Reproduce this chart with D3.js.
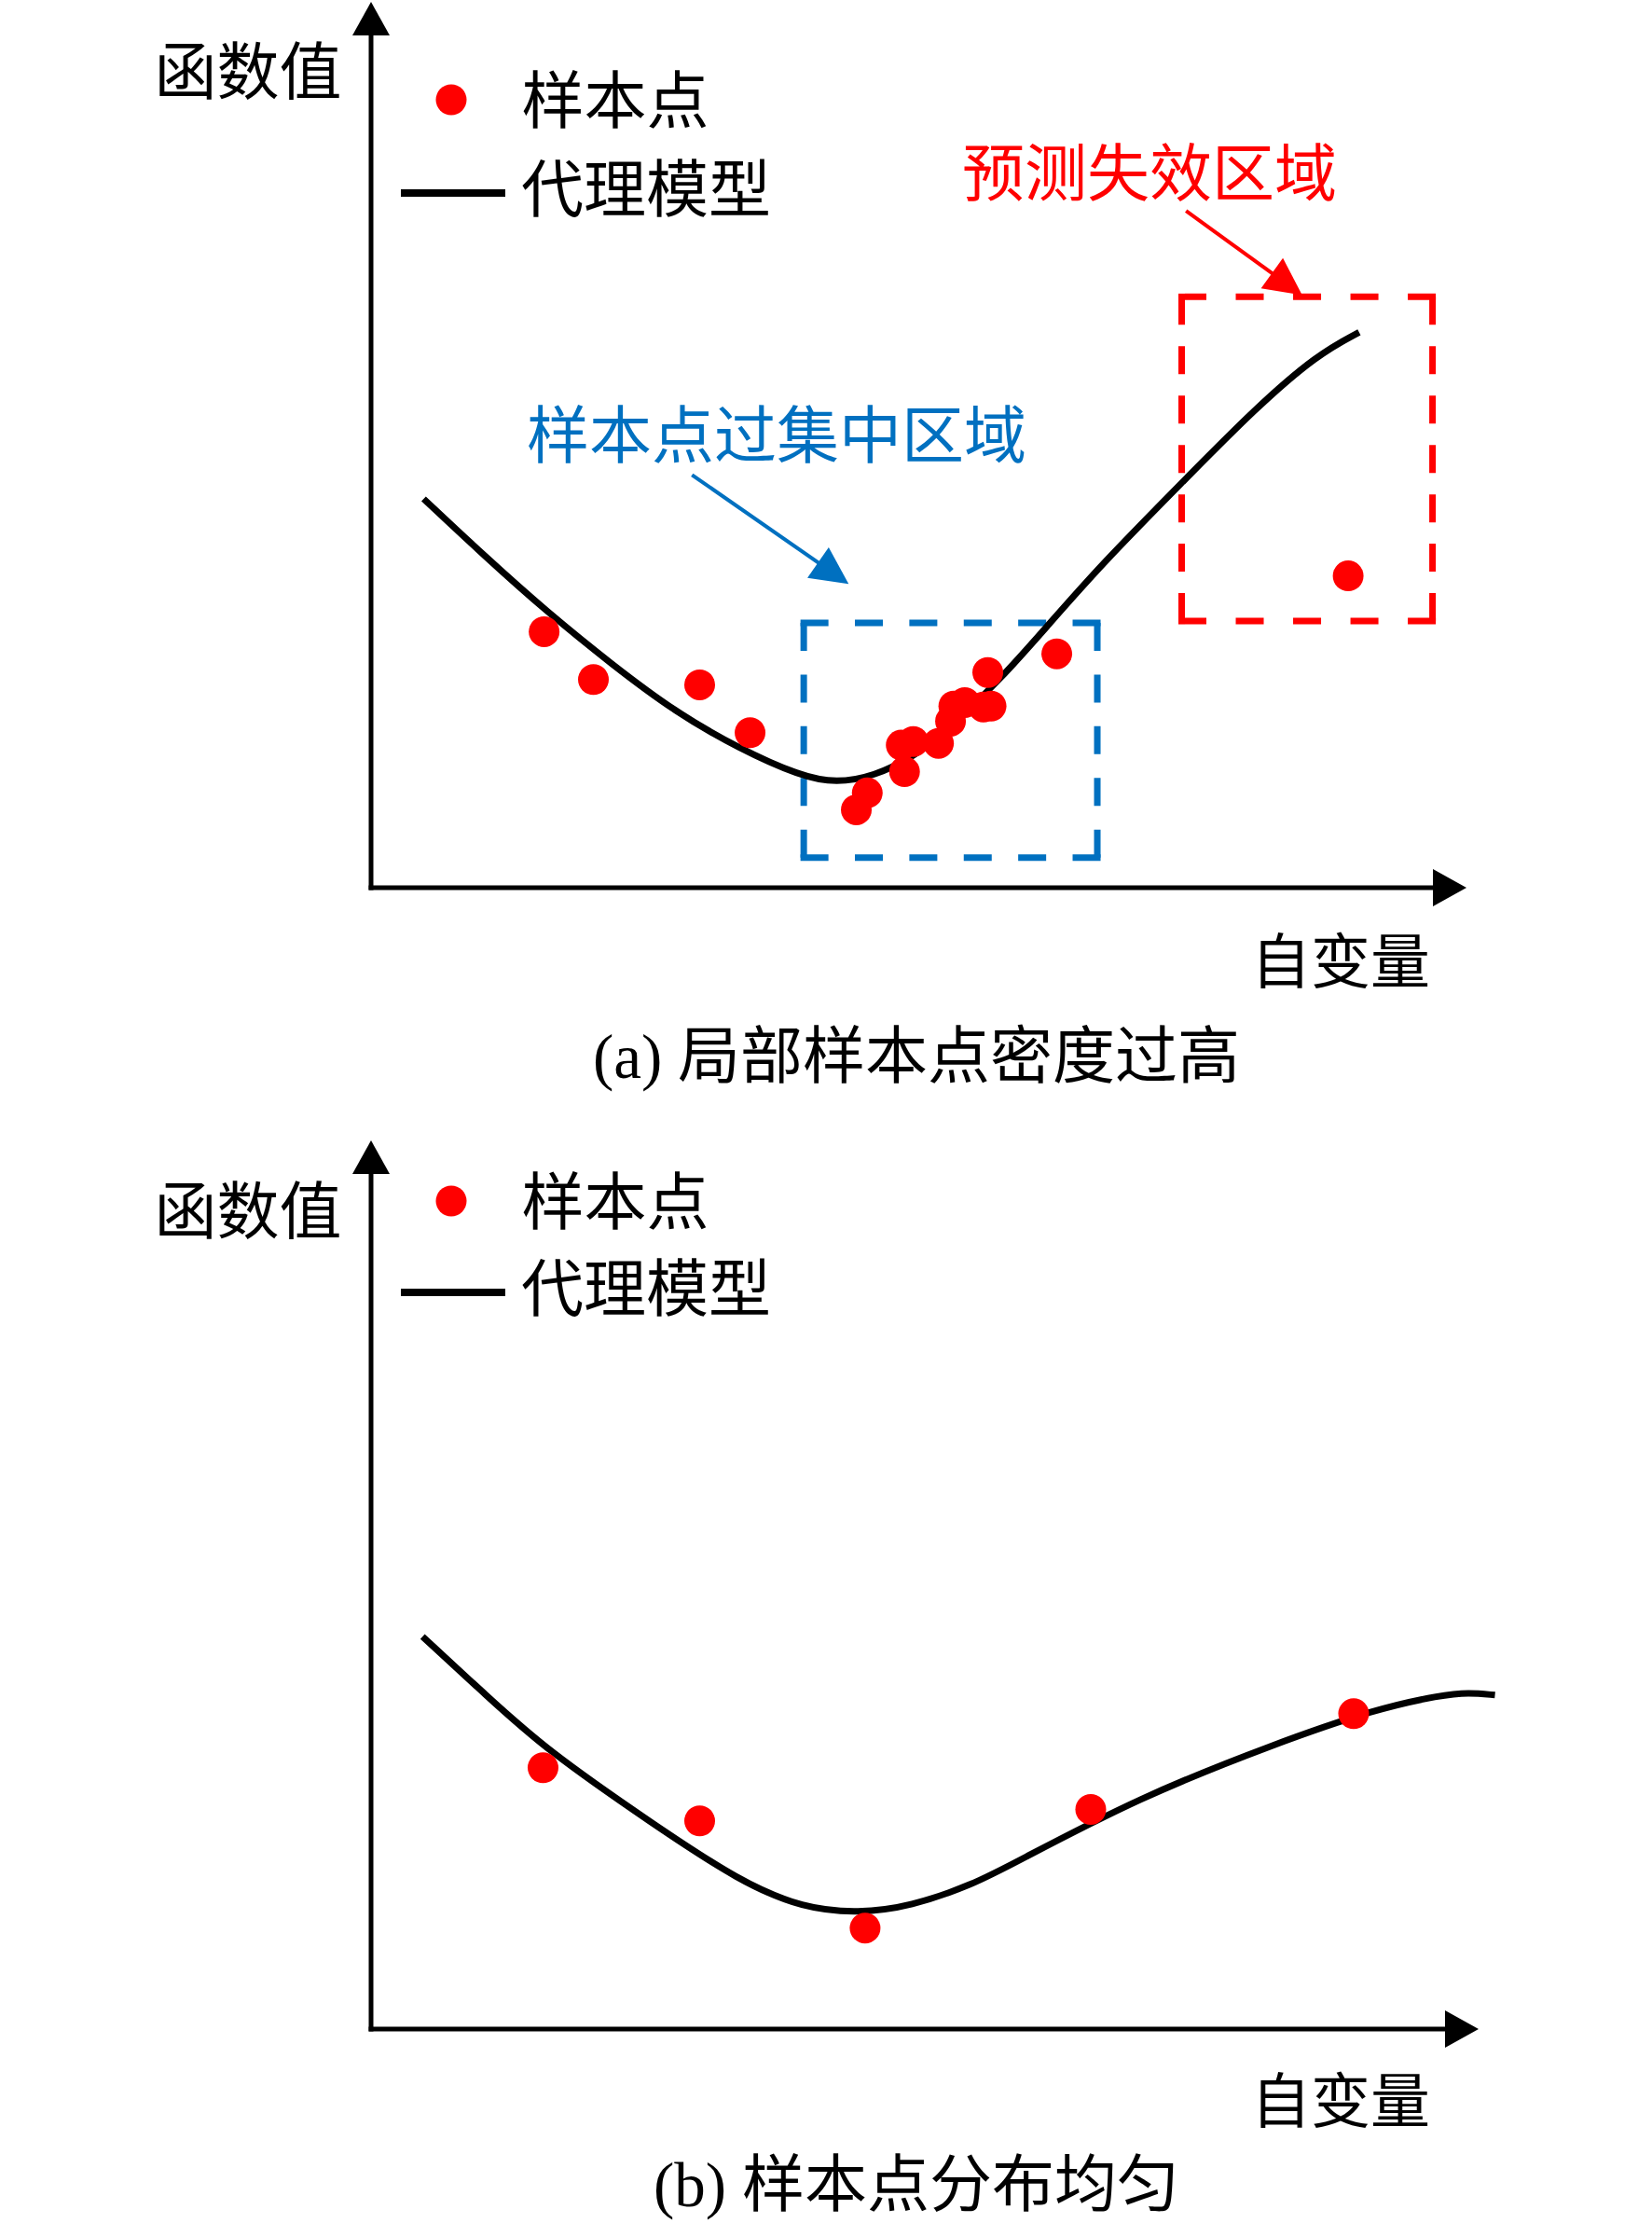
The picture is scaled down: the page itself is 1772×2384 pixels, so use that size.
<!DOCTYPE html>
<html>
<head>
<meta charset="utf-8">
<script src="https://cdn.jsdelivr.net/npm/d3@7"></script>
<style>
html,body{margin:0;padding:0;background:#fff;}
svg{display:block;}
</style>
</head>
<body>
<svg id="chart" width="1772" height="2384"></svg>
<script>
// ---------- data (in chart units: x 0..100, y 0..100) ----------
const curveA = [[4.8,43.9],[10.4,37.4],[16.1,31.1],[22.0,25.2],[27.7,19.9],[33.6,15.7],[39.2,12.6],[42.5,11.8],[45.9,12.6],[49.5,14.7],[52.9,18.1],[57.5,23.6],[61.5,29.2],[66.6,36.4],[74.0,45.7],[80.8,54.2],[86.4,60.2],[90.2,62.7]];
const samplesA = [[15.8,28.9],[20.3,23.5],[30.0,22.9],[34.6,17.5],[44.3,8.8],[45.3,10.7],[48.7,13.1],[48.4,16.1],[49.5,16.5],[51.8,16.3],[52.9,18.8],[53.2,20.5],[54.2,20.9],[55.9,20.4],[56.6,20.5],[56.3,24.3],[62.6,26.4],[89.2,35.2]];
const curveB = [[4.7,44.3],[10.4,37.8],[16.0,31.5],[25.8,23.1],[33.6,16.7],[39.5,13.6],[44.5,13.1],[49.2,13.8],[55.1,16.4],[58.5,18.6],[70.2,26.2],[82.5,32.2],[91.6,36.1],[97.7,37.7],[100.2,38.0],[102.6,37.7]];
const samplesB = [[15.7,29.5],[30.0,23.5],[45.1,11.4],[65.7,24.8],[89.7,35.6]];
const legendLabels = ["样本点","代理模型"];
const yAxisLabel = "函数值";
const xAxisLabel = "自变量";
const captions = ["(a) 局部样本点密度过高","(b) 样本点分布均匀"];
const regionLabels = ["样本点过集中区域","预测失效区域"];
// regions [x0, x1, y0, y1]
const denseRegion = [39.5, 66.3, 3.4, 29.9];
const failRegion = [74.0, 96.9, 30.1, 66.7];
// annotation arrows [[fromX, fromY],[toX, toY]]
const denseArrow = [[29.3,46.6],[43.6,34.3]];
const failArrow = [[74.4,76.4],[85.0,66.9]];

// ---------- drawing ----------
const svg = d3.select("#chart");
svg.append("rect").attr("width",1772).attr("height",2384).attr("fill","#fff");
const RED = "#FF0000", BLUE = "#0070C0";
const FONT = '"Liberation Serif","Noto Sans CJK SC",serif';
const FS = 67;

const x = d3.scaleLinear().domain([0,100]).range([398,1573]);

function arrowHead(g, x1, y1, x2, y2, len, wid, color) {
  const a = Math.atan2(y2-y1, x2-x1);
  const bx = x2 - len*Math.cos(a), by = y2 - len*Math.sin(a);
  const px = -Math.sin(a)*wid/2, py = Math.cos(a)*wid/2;
  g.append("path")
    .attr("d", `M${x2},${y2}L${bx+px},${by+py}L${bx-px},${by-py}Z`)
    .attr("fill", color);
}
function arrow(g, x1, y1, x2, y2, color, sw, len, wid) {
  const a = Math.atan2(y2-y1, x2-x1);
  const ex = x2 - (len-2)*Math.cos(a), ey = y2 - (len-2)*Math.sin(a);
  g.append("line").attr("x1",x1).attr("y1",y1).attr("x2",ex).attr("y2",ey)
    .attr("stroke",color).attr("stroke-width",sw);
  arrowHead(g, x1, y1, x2, y2, len, wid, color);
}
function dashedSide(g, x1, y1, x2, y2, color) {
  const L = Math.hypot(x2-x1, y2-y1), d = 30;
  const n = Math.max(2, Math.round((L+25)/55));
  const gap = (L - n*d)/(n-1);
  g.append("line").attr("x1",x1).attr("y1",y1).attr("x2",x2).attr("y2",y2)
    .attr("stroke",color).attr("stroke-width",7)
    .attr("stroke-dasharray",`${d} ${gap}`);
}
function dashedBox(g, region, y, color) {
  const [a,b,c,d2] = region;
  const x0 = x(a), x1 = x(b), yb = y(c), yt = y(d2);
  const h = 3.5;
  dashedSide(g, x0-h, yt, x1+h, yt, color);
  dashedSide(g, x0-h, yb, x1+h, yb, color);
  dashedSide(g, x0, yt, x0, yb, color);
  dashedSide(g, x1, yt, x1, yb, color);
}
function text(g, str, cx, cy, color, size) {
  g.append("text").attr("x",cx).attr("y",cy)
    .attr("text-anchor","middle").attr("dominant-baseline","central")
    .attr("font-family",FONT).attr("font-size",size||FS)
    .attr("fill",color||"#000").text(str);
}

function panel(cfg) {
  const g = svg.append("g");
  const y = d3.scaleLinear().domain([0,100]).range([cfg.origin, cfg.origin-950]);
  // axes
  g.append("line").attr("x1",x(0)).attr("x2",x(0)).attr("y1",cfg.origin+2.5).attr("y2",cfg.yTip+30)
    .attr("stroke","#000").attr("stroke-width",5);
  arrowHead(g, x(0), cfg.origin, x(0), cfg.yTip, 36, 40, "#000");
  g.append("line").attr("x1",x(0)-2.5).attr("x2",cfg.xTip-30).attr("y1",cfg.origin).attr("y2",cfg.origin)
    .attr("stroke","#000").attr("stroke-width",5);
  arrowHead(g, x(0), cfg.origin, cfg.xTip, cfg.origin, 36, 40, "#000");

  // axis labels
  text(g, yAxisLabel, 266, cfg.yLabelY, "#000");
  text(g, xAxisLabel, 1438, cfg.xLabelY, "#000", 64);
  text(g, cfg.caption, 983, cfg.captionY, "#000");

  // legend
  g.append("circle").attr("cx",484).attr("cy",cfg.legY1).attr("r",16.5).attr("fill",RED);
  text(g, legendLabels[0], 660, cfg.legY1+2, "#000");
  g.append("line").attr("x1",430).attr("x2",542).attr("y1",cfg.legY2).attr("y2",cfg.legY2)
    .attr("stroke","#000").attr("stroke-width",8);
  text(g, legendLabels[1], 693, cfg.legY2-3, "#000");

  if (cfg.extras) cfg.extras(g, y);

  // curve
  const line = d3.line().x(d=>x(d[0])).y(d=>y(d[1])).curve(d3.curveBasis);
  g.append("path").datum(cfg.curve).attr("d",line)
    .attr("fill","none").attr("stroke","#000").attr("stroke-width",7)
    .attr("stroke-linecap","butt").attr("stroke-linejoin","round");

  // points
  g.selectAll("circle.pt").data(cfg.samples).join("circle").attr("class","pt")
    .attr("cx",d=>x(d[0])).attr("cy",d=>y(d[1])).attr("r",16.5).attr("fill",RED);
}

panel({
  origin: 952, yTip: 2, xTip: 1573,
  yLabelY: 78, xLabelY: 1032, captionY: 1133, caption: captions[0],
  legY1: 107, legY2: 207,
  curve: curveA, samples: samplesA,
  extras: (g, y) => {
    dashedBox(g, denseRegion, y, BLUE);
    dashedBox(g, failRegion, y, RED);
    text(g, regionLabels[0], 833, 468, BLUE);
    text(g, regionLabels[1], 1233, 187, RED);
    arrow(g, x(denseArrow[0][0]), y(denseArrow[0][1]), x(denseArrow[1][0]), y(denseArrow[1][1]), BLUE, 4, 40, 40);
    arrow(g, x(failArrow[0][0]), y(failArrow[0][1]), x(failArrow[1][0]), y(failArrow[1][1]), RED, 4, 40, 40);
  }
});

panel({
  origin: 2176, yTip: 1223, xTip: 1586,
  yLabelY: 1300, xLabelY: 2254, captionY: 2343, caption: captions[1],
  legY1: 1288, legY2: 1386,
  curve: curveB, samples: samplesB
});
</script>
</body>
</html>
